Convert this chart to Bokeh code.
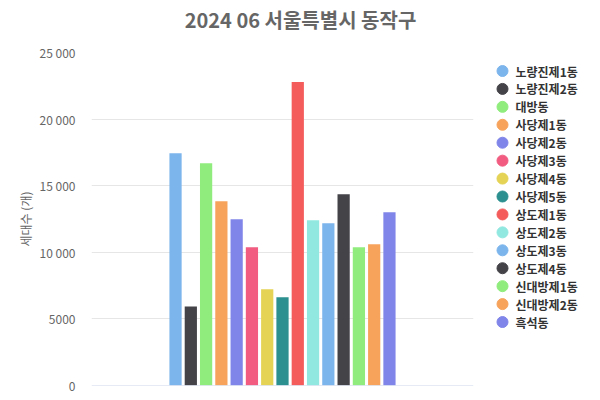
from bokeh.plotting import figure
from bokeh.layouts import row, column
from bokeh.models import (ColumnDataSource, FixedTicker, CustomJSTickFormatter,
                          Span, Range1d)
from bokeh.core.properties import value
from bokeh.embed import file_html
from bokeh.resources import INLINE

title_text = "2024 06 서울특별시 동작구"
y_label = "세대수 (개)"
names = ["노량진제1동", "노량진제2동", "대방동", "사당제1동", "사당제2동", "사당제3동",
         "사당제4동", "사당제5동", "상도제1동", "상도제2동", "상도제3동", "상도제4동",
         "신대방제1동", "신대방제2동", "흑석동"]
values = [17440, 5940, 16690, 13830, 12480, 10380, 7220, 6620, 22780, 12410,
          12180, 14360, 10380, 10600, 13010]
colors = ["#7cb5ec", "#434348", "#90ed7d", "#f7a35c", "#8085e9", "#f15c80",
          "#e4d354", "#2b908f", "#f45b5b", "#91e8e1", "#7cb5ec", "#434348",
          "#90ed7d", "#f7a35c", "#8085e9"]
y_ticks = [0, 5000, 10000, 15000, 20000, 25000]

FONT = "Noto Sans CJK KR"

n = len(names)
group_padding = 0.2
point_padding = 0.1
slot = (1 - 2 * group_padding) / n
xs = [-0.5 + group_padding + slot * (i + 0.5) for i in range(n)]
bar_w = slot * (1 - 2 * point_padding)

src = ColumnDataSource(dict(x=xs, top=values, color=colors, name=names))

# ---- title strip
tf = figure(width=600, height=40, output_backend="svg", toolbar_location=None,
            x_range=Range1d(0, 600), y_range=Range1d(40, 0),
            min_border=0, min_border_left=0, min_border_right=0,
            min_border_top=0, min_border_bottom=0)
tf.xaxis.visible = False
tf.yaxis.visible = False
tf.grid.visible = False
tf.outline_line_color = None
tf.text(x=[300], y=[18.5], text=[title_text], text_align="center",
        text_baseline="middle", text_font=value(FONT), text_font_size="20px",
        text_font_style="bold", text_color="#666666")

# ---- main chart
p = figure(width=480, height=360, output_backend="svg", toolbar_location=None,
           x_range=Range1d(-0.5, 0.5), y_range=Range1d(0, 25000),
           min_border_left=91, min_border_right=7, min_border_top=12, min_border_bottom=15)

p.vbar(x="x", top="top", width=bar_w, bottom=0, source=src, fill_color="color",
       line_color=None)

p.outline_line_color = None
p.xaxis.visible = False
p.xgrid.visible = False
p.ygrid.grid_line_color = "#e6e6e6"
p.ygrid.grid_line_width = 1

yax = p.yaxis[0]
yax.ticker = FixedTicker(ticks=y_ticks)
yax.formatter = CustomJSTickFormatter(code="""
  var s = Math.round(tick).toString();
  if (Math.abs(tick) >= 10000) { s = s.replace(/\\B(?=(\\d{3})+(?!\\d))/g, ' '); }
  return s;
""")
yax.axis_line_color = None
yax.major_tick_line_color = None
yax.minor_tick_line_color = None
yax.major_tick_out = 0
yax.major_tick_in = 0
yax.major_label_standoff = 16
yax.major_label_text_color = "#666666"
yax.major_label_text_font_size = "12px"
yax.major_label_text_font = FONT
yax.axis_label = y_label
yax.axis_label_text_font = FONT
yax.axis_label_text_font_size = "12px"
yax.axis_label_text_font_style = "normal"
yax.axis_label_text_color = "#666666"
yax.axis_label_standoff = 3

p.add_layout(Span(location=0, dimension="width", line_color="#ccd6eb", line_width=1))

# ---- legend panel (frame aligned with the chart frame: page y 52..385)
leg_src = ColumnDataSource(dict(
    y=[70.5 + 17.93 * i for i in range(n)], name=names, color=colors))
lp = figure(width=120, height=360, output_backend="svg", toolbar_location=None,
            x_range=Range1d(0, 120), y_range=Range1d(385, 52),
            min_border=0, min_border_left=0, min_border_right=0,
            min_border_top=12, min_border_bottom=15)
lp.xaxis.visible = False
lp.yaxis.visible = False
lp.grid.visible = False
lp.outline_line_color = None
lp.scatter(x=22, y="y", source=leg_src, size=11, color="color", marker="circle")
lp.text(x=35, y="y", text="name", source=leg_src, text_baseline="middle",
        text_align="left", text_font=value(FONT), text_font_size="12px",
        text_font_style="bold", text_color="#333333")

layout = column(tf, row(p, lp, spacing=0), spacing=0)
open("out.html", "w").write(file_html(layout, INLINE))
